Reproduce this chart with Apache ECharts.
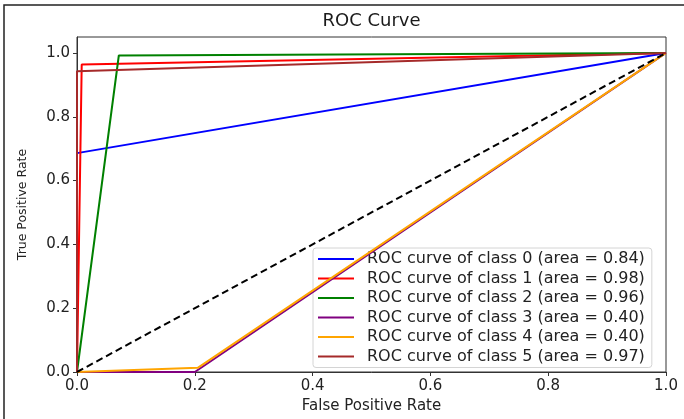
<!DOCTYPE html>
<html>
<head>
<meta charset="utf-8">
<script src="https://cdn.jsdelivr.net/npm/echarts@6/dist/echarts.min.js"></script>
<style>
html,body{margin:0;padding:0;background:#fff;}
#c{width:684px;height:419px;}
</style>
</head>
<body>
<div id="c"></div>
<script>
const classAreas = ["0.84", "0.98", "0.96", "0.40", "0.40", "0.97"];
const classColors = ["#0000ff", "#ff0000", "#008000", "#800080", "#ffa500", "#a52a2a"];
const fpr0 = [0, 0, 1];        const tpr0 = [0, 0.686, 1];
const fpr1 = [0, 0.008, 1];    const tpr1 = [0, 0.964, 1];
const fpr2 = [0, 0.071, 1];    const tpr2 = [0, 0.992, 1];
const fpr3 = [0, 0.2, 1];      const tpr3 = [0, 0, 1];
const fpr4 = [0, 0.205, 1];    const tpr4 = [0, 0.013, 1];
const fpr5 = [0, 0, 1];        const tpr5 = [0, 0.943, 1];
const diagX = [0, 1];          const diagY = [0, 1];
const tickValues = [0, 0.2, 0.4, 0.6, 0.8, 1.0];

const fprs = [fpr0, fpr1, fpr2, fpr3, fpr4, fpr5];
const tprs = [tpr0, tpr1, tpr2, tpr3, tpr4, tpr5];
const zip = (a, b) => a.map((v, i) => [v, b[i]]);

const FONT = 'DejaVu Sans';
const series = fprs.map((f, i) => ({
  name: 'ROC curve of class ' + i + ' (area = ' + classAreas[i] + ')',
  type: 'line',
  data: zip(f, tprs[i]),
  symbol: 'none',
  lineStyle: { color: classColors[i], width: 2 },
  itemStyle: { color: classColors[i] },
  z: 2 + i,
  animation: false
}));
series.push({
  name: 'diag',
  type: 'line',
  data: zip(diagX, diagY),
  symbol: 'none',
  lineStyle: { color: '#000', width: 2, type: [7, 4] },
  z: 10,
  animation: false
});

const chart = echarts.init(document.getElementById('c'));
chart.setOption({
  animation: false,
  backgroundColor: '#fff',
  textStyle: { fontFamily: FONT },
  title: {
    text: 'ROC Curve',
    left: 371.5,
    textAlign: 'center',
    top: 12,
    padding: 0,
    textStyle: { fontFamily: FONT, fontSize: 18, fontWeight: 'normal', color: '#1a1a1a' }
  },
  graphic: [{
    type: 'polyline',
    shape: { points: [[4, 419], [4, 5], [684, 5]] },
    style: { stroke: '#222', lineWidth: 1.5, fill: null },
    silent: true
  }],
  grid: { left: 77, right: 18, top: 37, bottom: 47, show: true, borderColor: '#333', borderWidth: 1, backgroundColor: 'transparent' },
  xAxis: {
    type: 'value', min: 0, max: 1, interval: 0.2,
    name: 'False Positive Rate', nameLocation: 'middle', nameGap: 24,
    nameTextStyle: { fontFamily: FONT, fontSize: 15, color: '#222' },
    axisLine: { show: true, onZero: false, lineStyle: { color: '#333', width: 1 } },
    axisTick: { show: true, inside: false, length: 4, lineStyle: { color: '#333' }, customValues: tickValues },
    axisLabel: { margin: 7, fontFamily: FONT, fontSize: 15, color: '#222', formatter: v => v.toFixed(1), customValues: tickValues },
    splitLine: { show: false }
  },
  yAxis: {
    type: 'value', min: 0, max: 1.05,
    name: 'True Positive Rate', nameLocation: 'middle', nameGap: 48, nameRotate: 90,
    nameTextStyle: { fontFamily: FONT, fontSize: 12.5, color: '#222' },
    axisLine: { show: true, onZero: false, lineStyle: { color: '#333', width: 1 } },
    axisTick: { show: true, inside: false, length: 4, lineStyle: { color: '#333' }, customValues: tickValues },
    axisLabel: { margin: 7, fontFamily: FONT, fontSize: 15, color: '#222', formatter: v => v.toFixed(1), customValues: tickValues },
    splitLine: { show: false }
  },
  legend: {
    data: series.slice(0, 6).map(s => s.name),
    orient: 'vertical',
    left: 313, top: 248,
    padding: [3, 7, 3, 4],
    itemWidth: 36, itemHeight: 14, itemGap: 3.5,
    backgroundColor: 'rgba(255,255,255,0.85)',
    borderColor: '#d4d4d4', borderWidth: 1, borderRadius: 3,
    textStyle: { fontFamily: FONT, fontSize: 16, lineHeight: 14, color: '#222', padding: [0, 0, 0, 8] },
    itemStyle: { opacity: 0 },
    lineStyle: { width: 2 }
  },
  series: series
});
</script>
</body>
</html>
